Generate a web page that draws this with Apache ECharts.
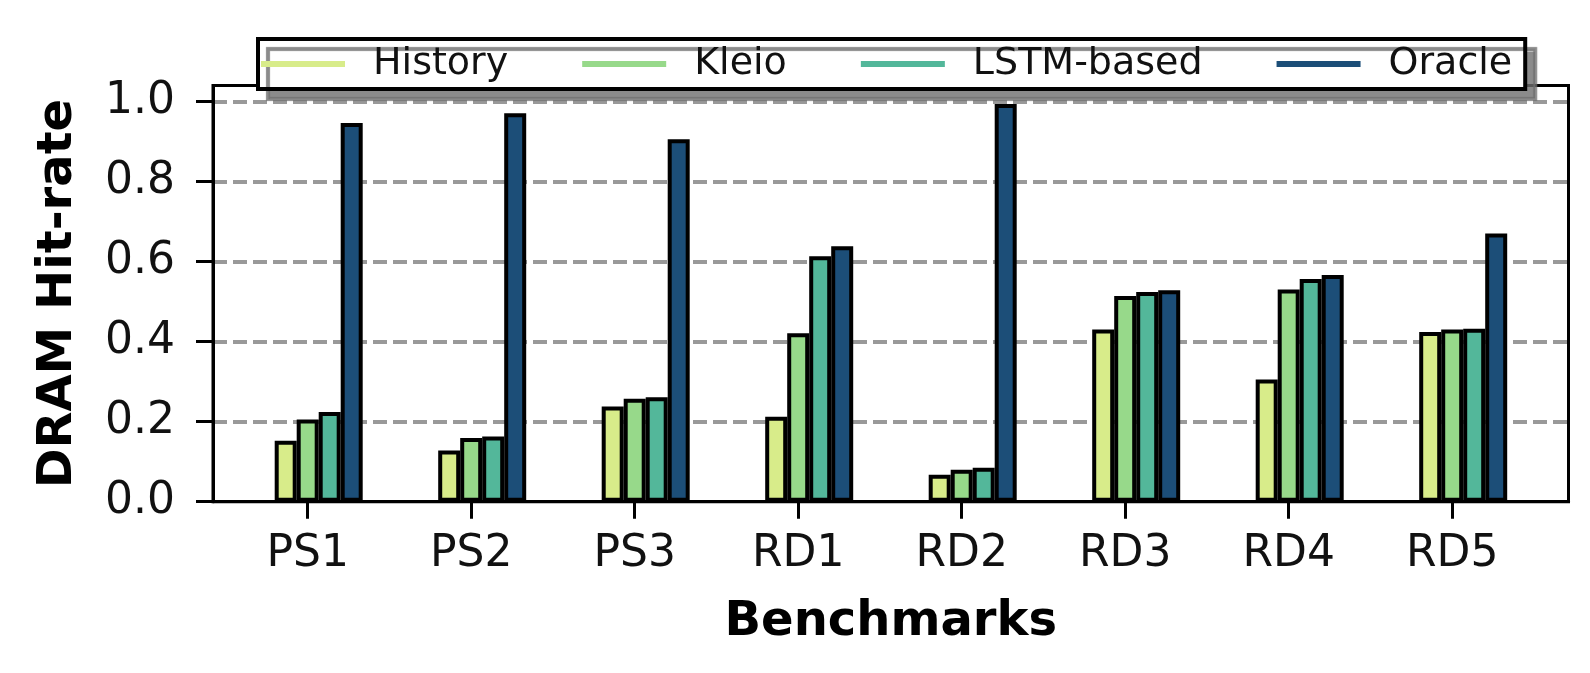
<!DOCTYPE html>
<html>
<head>
<meta charset="utf-8">
<script src="https://cdn.jsdelivr.net/npm/echarts@6/dist/echarts.min.js"></script>
<style>
  html, body { margin: 0; padding: 0; background: #fff; }
  #chart { width: 1590px; height: 673px; }
</style>
</head>
<body>
<div id="chart"></div>
<script>
// Benchmarks on the x axis
const categories = ['PS1', 'PS2', 'PS3', 'RD1', 'RD2', 'RD3', 'RD4', 'RD5'];

// DRAM hit-rate per predictor
const history = [0.152, 0.128, 0.238, 0.212, 0.067, 0.430, 0.305, 0.424];
const kleio   = [0.205, 0.159, 0.257, 0.421, 0.080, 0.514, 0.530, 0.430];
const lstm    = [0.224, 0.163, 0.261, 0.613, 0.085, 0.524, 0.556, 0.432];
const oracle  = [0.946, 0.970, 0.905, 0.638, 0.993, 0.528, 0.566, 0.670];

const seriesNames = ['History', 'Kleio', 'LSTM-based', 'Oracle'];
const seriesColors = ['#d8ec8a', '#97d98a', '#53b79a', '#1c4e78'];

// y axis: ticks every 0.2, upper limit padded 5% above the tallest bar
const yTicks = [0, 0.2, 0.4, 0.6, 0.8, 1.0];
const yMax = 1.0395;

const FONT = 'DejaVu Sans';

// plot frame
const frame = { left: 213, right: 21.5, top: 85.5, bottom: 171.3 };
// category bands: tick centres 163.5px apart, first at x=307.7
const band = 163.5;
const firstTick = 307.7;
const barW = 22;
const catLeft = firstTick - band / 2;
const catRight = 1590 - (catLeft + band * categories.length);

const chart = echarts.init(document.getElementById('chart'), null, { renderer: 'canvas' });

const hiddenY = (gi) => ({
  type: 'value', gridIndex: gi, min: 0, max: yMax,
  show: false
});

const option = {
  backgroundColor: '#ffffff',
  animation: false,
  textStyle: { fontFamily: FONT },
  legend: {
    data: seriesNames,
    left: 258,
    top: 39,
    orient: 'horizontal',
    icon: 'rect',
    itemWidth: 84,
    itemHeight: 6,
    itemGap: 74,
    padding: [6, 13, 6, 3],
    backgroundColor: '#ffffff',
    borderColor: '#000000',
    borderWidth: 4,
    borderRadius: 0,
    shadowColor: 'rgba(110,110,110,0.8)',
    shadowBlur: 1,
    shadowOffsetX: 10,
    shadowOffsetY: 10,
    itemStyle: { borderWidth: 0 },
    textStyle: {
      fontFamily: FONT, fontSize: 38, color: '#111',
      padding: [0, 0, 0, 23]
    },
    selectedMode: false
  },
  grid: [
    // frame, y axis, grid lines, axis titles
    { left: frame.left, right: frame.right, top: frame.top, bottom: frame.bottom,
      show: true, borderColor: '#000', borderWidth: 3, backgroundColor: 'transparent',
      outerBoundsMode: 'none', containLabel: false },
    // category ticks and labels
    { left: catLeft, right: catRight, top: frame.top, bottom: frame.bottom,
      outerBoundsMode: 'none', containLabel: false },
    // bars: each group sits half a bar right of its tick
    { left: catLeft + barW / 2, right: catRight - barW / 2, top: frame.top, bottom: frame.bottom,
      outerBoundsMode: 'none', containLabel: false }
  ],
  xAxis: [
    {
      type: 'value', gridIndex: 0, min: 0, max: 1,
      name: 'Benchmarks',
      nameLocation: 'middle',
      nameGap: 97,
      nameTextStyle: { fontFamily: FONT, fontSize: 48, fontWeight: 'bold', color: '#000' },
      axisLine: { show: true, lineStyle: { color: '#000', width: 3 } },
      axisTick: { show: false },
      axisLabel: { show: false },
      splitLine: { show: false }
    },
    {
      type: 'category', gridIndex: 1, data: categories,
      boundaryGap: true,
      axisLine: { show: false },
      axisTick: { show: true, alignWithLabel: true, inside: false, length: 17,
                  lineStyle: { color: '#000', width: 3 } },
      axisLabel: { show: true, margin: 31, fontFamily: FONT, fontSize: 44, color: '#111' },
      splitLine: { show: false }
    },
    {
      type: 'category', gridIndex: 2, data: categories,
      boundaryGap: true, show: false
    }
  ],
  yAxis: [
    {
      type: 'value', gridIndex: 0, min: 0, max: yMax, interval: 0.2,
      name: 'DRAM Hit-rate',
      nameLocation: 'middle',
      nameRotate: 90,
      nameGap: 130,
      nameTextStyle: { fontFamily: FONT, fontSize: 48, fontWeight: 'bold', color: '#000' },
      axisLine: { show: true, lineStyle: { color: '#000', width: 3 } },
      axisTick: { show: true, inside: false, length: 17, customValues: yTicks,
                  lineStyle: { color: '#000', width: 3 } },
      axisLabel: { show: true, margin: 38, customValues: yTicks,
                   fontFamily: FONT, fontSize: 44, color: '#111',
                   formatter: (v) => v.toFixed(1) },
      splitLine: { show: true, showMinLine: false, showMaxLine: true,
                   lineStyle: { color: '#999999', width: 4, type: [14, 6] } }
    },
    hiddenY(1),
    hiddenY(2)
  ],
  series: [history, kleio, lstm, oracle].map((vals, i) => ({
    name: seriesNames[i],
    type: 'bar',
    xAxisIndex: 2,
    yAxisIndex: 2,
    data: vals,
    barWidth: barW,
    barGap: '0%',
    itemStyle: { color: seriesColors[i], borderColor: '#000', borderWidth: 4 },
    emphasis: { disabled: true }
  }))
};

chart.setOption(option);
</script>
</body>
</html>
